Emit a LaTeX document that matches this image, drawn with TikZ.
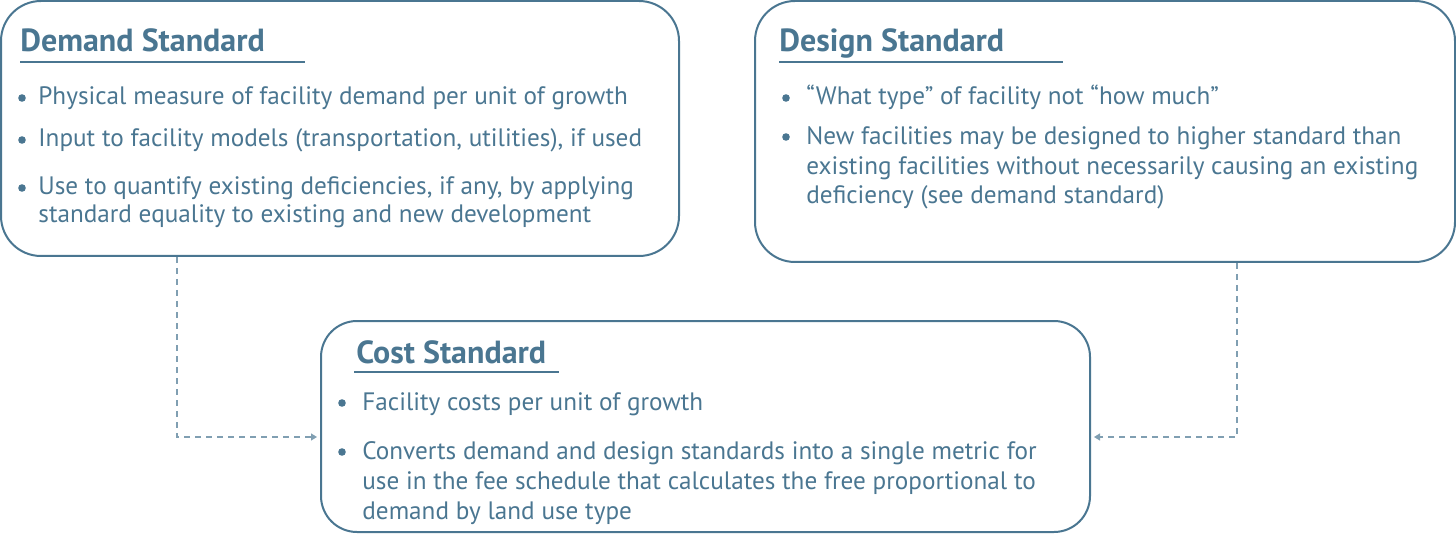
\documentclass[tikz,border=0pt]{standalone}
\usepackage{fontspec}
\setmainfont{PT Sans}
\usetikzlibrary{positioning,arrows.meta}
\definecolor{stdblue}{RGB}{74,118,145}
\tikzset{
  panel/.style   = {draw=stdblue, line width=1pt, rounded corners=20pt, inner sep=0pt},
  heading/.style = {anchor=base west, inner sep=0pt, text=stdblue,
                    font=\fontsize{16}{19}\selectfont\bfseries},
  % multi-line points sit on the baseline of their last line
  point/.style   = {anchor=base west, inner sep=0pt, align=left, text=stdblue,
                    font=\fontsize{12.6}{14.5}\selectfont},
  dot/.style     = {circle, fill=stdblue, inner sep=0pt, minimum size=3.8pt},
  rule/.style    = {draw=stdblue, line width=0.9pt},
  link/.style    = {draw=stdblue!70, line width=0.6pt, dash pattern=on 3pt off 2.5pt,
                    -{Triangle[length=3pt,width=3.5pt]}, shorten >=1.5pt}
}

\begin{document}
\begin{tikzpicture}[x=0.5pt,y=-0.5pt]
\useasboundingbox (0,0) rectangle (1456,534);

% the three standards
\node[panel, minimum width=339pt, minimum height=127.5pt] (demand) at (340,128.5) {};
\node[panel, minimum width=350pt, minimum height=130.5pt] (design) at (1105,131.5) {};
\node[panel, minimum width=384.5pt, minimum height=105.5pt, rounded corners=18pt] (cost) at (705.5,426.5) {};

% headings with their rules
\node[heading] (hdemand) at (20,52) {Demand Standard};
\node[heading] (hdesign) at (779,52) {Design Standard};
\node[heading] (hcost) at (356,363) {Cost Standard};
\draw[rule] (20,62) -- (305,62);
\draw[rule] (779,62) -- (1063,62);
\draw[rule] (354,372) -- (559,372);

% demand standard
\node[point] (d1) at (38,105) {Physical measure of facility demand per unit of growth};
\node[point] (d2) at (38,147) {Input to facility models (transportation, utilities), if used};
\node[point, font=\fontsize{12.6}{14}\selectfont] (d3) at (38,223)
  {Use to quantify existing deficiencies, if any, by applying\\standard equality to existing and new development};

% design standard
\node[point] (g1) at (806,105) {“What type” of facility not “how much”};
\node[point, font=\fontsize{12.6}{14.75}\selectfont] (g2) at (806,204)
  {New facilities may be designed to higher standard than\\existing facilities without necessarily causing an existing\\deficiency (see demand standard)};

% cost standard
\node[point] (c1) at (362,410) {Facility costs per unit of growth};
\node[point, font=\fontsize{12.6}{15}\selectfont] (c2) at (362,519)
  {Converts demand and design standards into a single metric for\\use in the fee schedule that calculates the free proportional to\\demand by land use type};

% bullets
\foreach \x/\y in {22/98, 22/140, 22/188, 786/98, 786/137, 342/403, 342/452}
  \node[dot] at (\x,\y) {};

% dashed links into the cost standard
\coordinate (kdemand) at (177,437);
\coordinate (kdesign) at (1237,437);
\draw[link] (demand.south -| kdemand) |- (cost.west |- kdemand);
\draw[link] (design.south -| kdesign) |- (cost.east |- kdesign);
\end{tikzpicture}
\end{document}
